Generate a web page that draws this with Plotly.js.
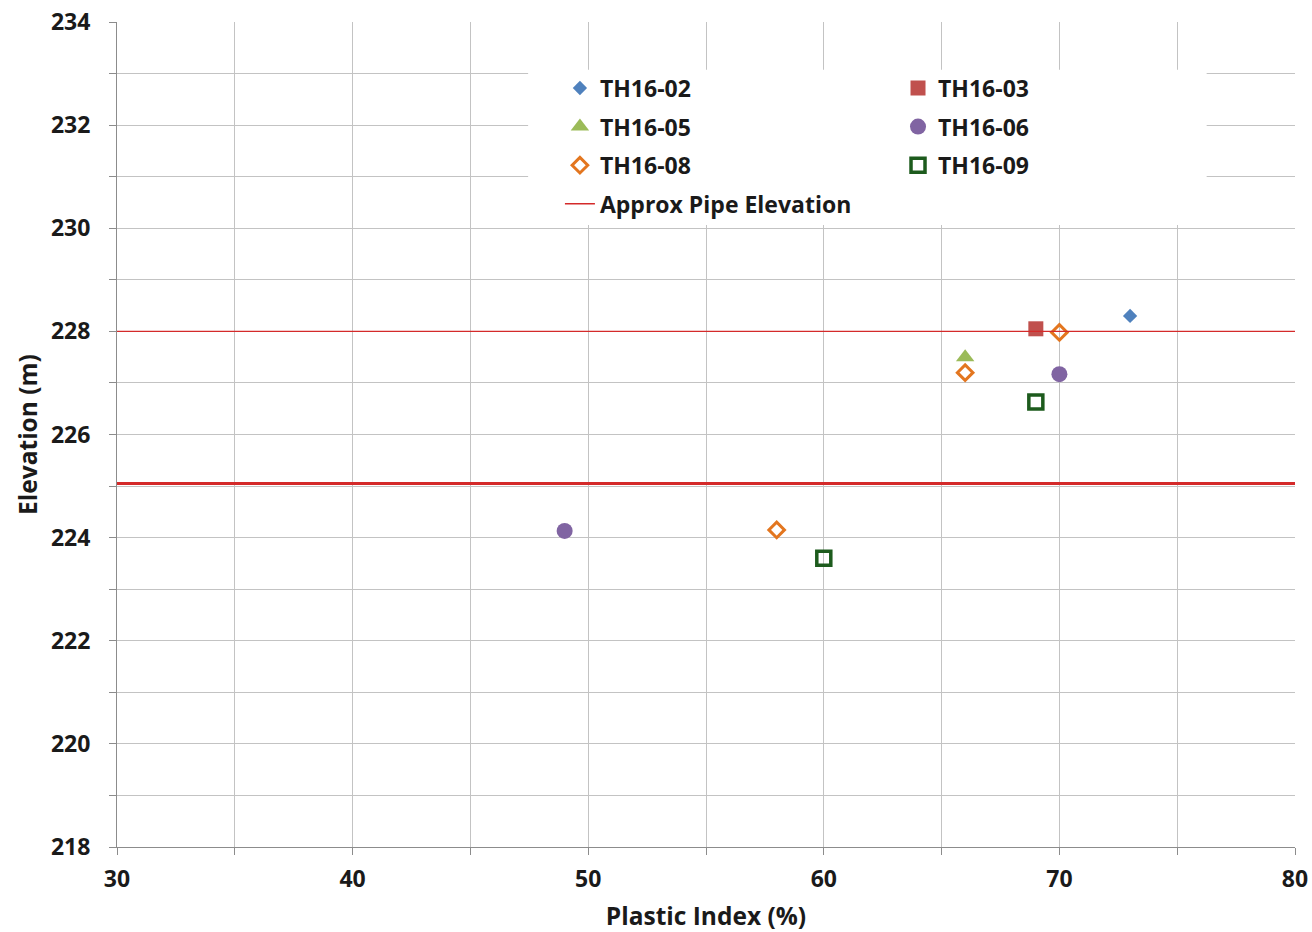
<!DOCTYPE html>
<html>
<head>
<meta charset="utf-8">
<script src="https://cdn.plot.ly/plotly-3.0.1.min.js"></script>
<style>html,body{margin:0;padding:0;background:#fff;}#chart{width:1312px;height:932px;}</style>
</head>
<body>
<div id="chart"></div>
<script>
// ---- data ----
const th02X = [73];            const th02Y = [228.3];
const th03X = [69];            const th03Y = [228.05];
const th05X = [66];            const th05Y = [227.5];
const th06X = [70, 49];        const th06Y = [227.17, 224.13];
const th08X = [70, 66, 58];    const th08Y = [227.98, 227.2, 224.15];
const th09X = [69, 60];        const th09Y = [226.63, 223.6];
const pipeLevels = [228, 225.05];
const pipeX = [30, 80];
const seriesNames = ['TH16-02','TH16-03','TH16-05','TH16-06','TH16-08','TH16-09'];
const pipeName = 'Approx Pipe Elevation';

const FONT = '"Open Sans", "Noto Sans", sans-serif';

function pts(x, y, name, marker, legend) {
  return {type:'scatter', mode:'markers', x:x, y:y, name:name, marker:marker,
          legend:legend, legendgroup:name, hoverinfo:'x+y+name'};
}

const data = [
  pts(th02X, th02Y, seriesNames[0], {symbol:'diamond', size:11, color:'#4f81bd'}, 'legend'),
  pts(th03X, th03Y, seriesNames[1], {symbol:'square', size:15, color:'#c0504d'}, 'legend2'),
  pts(th05X, th05Y, seriesNames[2], {symbol:'triangle-up', size:16, color:'#9bbb59'}, 'legend'),
  pts(th06X, th06Y, seriesNames[3], {symbol:'circle', size:16, color:'#8064a2'}, 'legend2'),
  pts(th08X, th08Y, seriesNames[4], {symbol:'diamond-open', size:12, color:'#e3761f', line:{width:3, color:'#e3761f'}}, 'legend'),
  pts(th09X, th09Y, seriesNames[5], {symbol:'square-open', size:14, color:'#1d5b1d', line:{width:3.5, color:'#1d5b1d'}}, 'legend2')
];
pipeLevels.forEach(function(lv, i){
  data.push({type:'scatter', mode:'lines', x:pipeX, y:[lv, lv], name:pipeName,
    legend:'legend', legendgroup:pipeName, showlegend:i===0,
    line:{color:'#d42a2a', width: i===0 ? 1.4 : 3}, hoverinfo:'y+name'});
});

const axisCommon = {
  showline:true, linecolor:'#8c8c8c', linewidth:1,
  showgrid:true, gridcolor:'#c3c3c3', gridwidth:1,
  zeroline:false, ticks:'outside', ticklen:7, tickcolor:'#8c8c8c',
  tickfont:{family:FONT, size:23, color:'#1a1a1a', weight:'bold'},
  mirror:false
};

const layout = {
  width:1312, height:932,
  margin:{l:117, r:17, t:22, b:85},
  paper_bgcolor:'#ffffff', plot_bgcolor:'#ffffff',
  showlegend:true,
  xaxis: Object.assign({}, axisCommon, {
    range:[30,80], dtick:10, tick0:30, ticklabelstandoff:4,
    minor:{dtick:5, showgrid:true, gridcolor:'#c3c3c3', ticks:'outside', ticklen:7, tickcolor:'#8c8c8c'},
    title:{text:'Plastic Index (%)', font:{family:FONT, size:24.5, color:'#1a1a1a', weight:'bold'}, standoff:15},
    automargin:false
  }),
  yaxis: Object.assign({}, axisCommon, {
    range:[218,234], dtick:2, tick0:218, ticklabelstandoff:14,
    minor:{dtick:1, showgrid:true, gridcolor:'#c3c3c3', ticks:'outside', ticklen:7, tickcolor:'#8c8c8c'},
    title:{text:'Elevation (m)', font:{family:FONT, size:24.5, color:'#1a1a1a', weight:'bold'}, standoff:6},
    automargin:false
  }),
  legend:{x:0.376, y:0.946, xanchor:'left', yanchor:'top', bgcolor:'rgba(0,0,0,0)',
    font:{family:FONT, size:23, color:'#1a1a1a', weight:'bold'}, tracegroupgap:5.7, traceorder:'grouped'},
  legend2:{x:0.663, y:0.946, xanchor:'left', yanchor:'top', bgcolor:'rgba(0,0,0,0)',
    font:{family:FONT, size:23, color:'#1a1a1a', weight:'bold'}, tracegroupgap:5.7, traceorder:'grouped'},
  shapes:[{type:'rect', xref:'paper', yref:'paper', x0:0.349, x1:0.925, y0:0.754, y1:0.942,
    fillcolor:'#ffffff', line:{width:0}, layer:'above'}]
};

Plotly.newPlot('chart', data, layout, {displayModeBar:false, responsive:false});
</script>
</body>
</html>
